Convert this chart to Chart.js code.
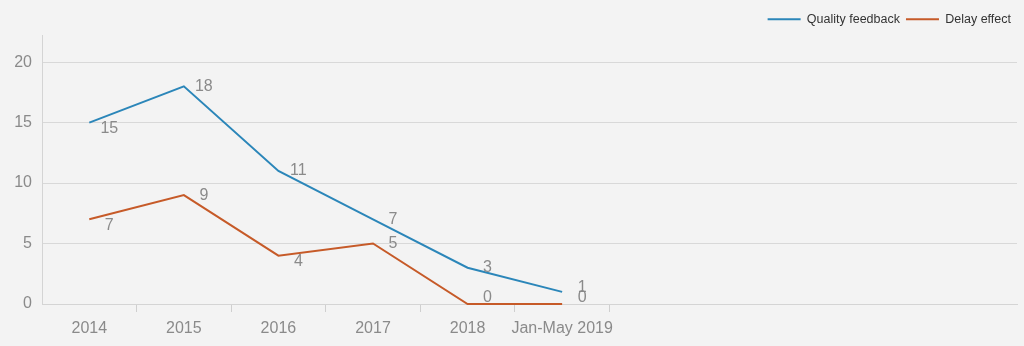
<!DOCTYPE html>
<html>
<head>
<meta charset="utf-8">
<script src="https://cdn.jsdelivr.net/npm/chart.js@4"></script>
<style>
  html, body { margin: 0; padding: 0; background: #f3f3f3; }
  #wrap { width: 1024px; height: 346px; }
</style>
</head>
<body>
<div id="wrap"><canvas id="chart"></canvas></div>
<script>
// chart data
var categories = ['2014', '2015', '2016', '2017', '2018', 'Jan-May 2019'];
var qualityFeedback = [15, 18, 11, 7, 3, 1];
var delayEffect = [7, 9, 4, 5, 0, 0];
var yTicks = [0, 5, 10, 15, 20];

function toPoints(values) {
  return values.map(function(v, i) { return { x: i, y: v }; });
}

// value labels next to each point, pushed below when the line climbs
var valueLabels = {
  id: 'valueLabels',
  afterDatasetsDraw: function(chart) {
    var ctx = chart.ctx;
    ctx.save();
    ctx.font = '16px "Liberation Sans", Arial, sans-serif';
    ctx.fillStyle = '#8a8a8a';
    ctx.textAlign = 'center';
    ctx.textBaseline = 'middle';
    chart.data.datasets.forEach(function(ds, di) {
      var pts = ds.data;
      chart.getDatasetMeta(di).data.forEach(function(pt, i) {
        var v = pts[i].y;
        var dy = 0;
        if (v === 0) dy = -6;
        else if (i < pts.length - 1 && pts[i + 1].y > v) dy = 6;
        else if (i === pts.length - 1) dy = -4;
        ctx.fillText(String(v), pt.x + 20, pt.y + dy);
      });
    });
    ctx.restore();
  }
};

var chart = new Chart(document.getElementById('chart'), {
  type: 'line',
  data: {
    datasets: [{
      label: 'Quality feedback',
      data: toPoints(qualityFeedback),
      borderColor: '#2b86b9',
      backgroundColor: '#2b86b9',
      borderWidth: 2,
      pointRadius: 0,
      tension: 0,
      clip: false
    }, {
      label: 'Delay effect',
      data: toPoints(delayEffect),
      borderColor: '#c65a28',
      backgroundColor: '#c65a28',
      borderWidth: 2,
      pointRadius: 0,
      tension: 0,
      clip: false
    }]
  },
  options: {
    responsive: true,
    maintainAspectRatio: false,
    animation: false,
    layout: { padding: { left: 0, right: 7, top: 7, bottom: 0 } },
    plugins: {
      tooltip: { enabled: false },
      legend: {
        position: 'top',
        align: 'end',
        labels: {
          usePointStyle: true,
          pointStyle: 'line',
          pointStyleWidth: 33,
          boxHeight: 12,
          padding: 6,
          color: '#333',
          font: { family: '"Liberation Sans", Arial, sans-serif', size: 12.5 }
        }
      }
    },
    scales: {
      x: {
        type: 'linear',
        min: -0.5,
        max: 9.81,
        afterBuildTicks: function(scale) {
          var t = [];
          categories.forEach(function(c, i) {
            t.push({ value: i });
            t.push({ value: i + 0.5 });
          });
          scale.ticks = t;
        },
        afterFit: function(scale) { scale.height = 42; },
        border: { color: '#d4d4d4' },
        grid: {
          drawOnChartArea: false,
          drawTicks: true,
          tickLength: 8,
          color: function(ctx) {
            if (ctx.tick && Number.isInteger(ctx.tick.value)) return 'rgba(0,0,0,0)';
            return '#cfcfcf';
          }
        },
        ticks: {
          autoSkip: false,
          maxRotation: 0,
          padding: 7,
          color: '#8a8a8a',
          font: { family: '"Liberation Sans", Arial, sans-serif', size: 16 },
          callback: function(v) {
            return Number.isInteger(v) ? categories[v] : '';
          }
        }
      },
      y: {
        min: 0,
        max: 22.2,
        afterBuildTicks: function(scale) {
          scale.ticks = yTicks.map(function(v) { return { value: v }; });
        },
        afterFit: function(scale) { scale.width = 42; },
        border: { color: '#d4d4d4' },
        grid: { color: '#d8d8d8', drawTicks: false },
        ticks: {
          padding: 10,
          color: '#8a8a8a',
          font: { family: '"Liberation Sans", Arial, sans-serif', size: 16 }
        }
      }
    }
  },
  plugins: [valueLabels]
});
</script>
</body>
</html>
